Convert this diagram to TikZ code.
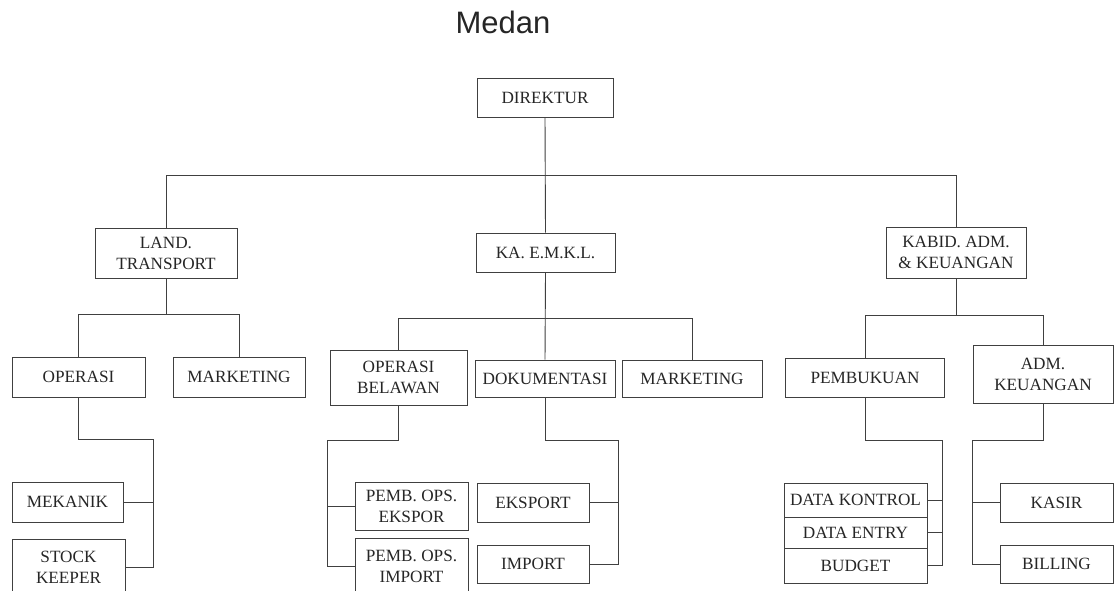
\documentclass[tikz,border=0pt]{standalone}
\usepackage{fontspec}
\setmainfont{Liberation Serif}
\newfontfamily\titlefont{Liberation Sans}
\begin{document}
\begin{tikzpicture}[x=1pt,y=-1pt,
  box/.style={draw=black!75, line width=0.9pt, inner sep=0pt, align=center,
    text=black!85, font=\fontsize{17.2}{21}\selectfont},
  conn/.style={draw=black!75, line width=0.9pt}]
\useasboundingbox (0,0) rectangle (1118,590);
\fill[white] (0,0) rectangle (1118,590);

\node[inner sep=0pt, text=black!85, font=\titlefont\fontsize{31}{36}\selectfont] (title) at (503,22.5) {Medan};

% level 0
\node[box, minimum width=136pt, minimum height=39pt] (dir) at (545,97.5) {DIREKTUR};
% level 1
\node[box, minimum width=142pt, minimum height=50pt] (land) at (166,253) {LAND.\\TRANSPORT};
\node[box, minimum width=139pt, minimum height=39pt] (emkl) at (545.5,252.5) {KA. E.M.K.L.};
\node[box, minimum width=140pt, minimum height=51pt] (kabid) at (956,252.5) {KABID. ADM.\\\& KEUANGAN};
% level 2
\node[box, minimum width=133pt, minimum height=40pt] (op1) at (78.5,377) {OPERASI};
\node[box, minimum width=132pt, minimum height=40pt] (mk1) at (239,377) {MARKETING};
\node[box, minimum width=137pt, minimum height=55pt] (opb) at (398.5,377.5) {OPERASI\\BELAWAN};
\node[box, minimum width=140pt, minimum height=37pt] (dok) at (545,378.5) {DOKUMENTASI};
\node[box, minimum width=140pt, minimum height=37pt] (mk2) at (692,378.5) {MARKETING};
\node[box, minimum width=159pt, minimum height=39pt] (pemb) at (865,377.5) {PEMBUKUAN};
\node[box, minimum width=140pt, minimum height=58pt] (admk) at (1043,374) {ADM.\\KEUANGAN};
% level 3
\node[box, minimum width=111pt, minimum height=40pt] (mek) at (67.5,502) {MEKANIK};
\node[box, minimum width=113pt, minimum height=57pt] (stock) at (68.5,567.5) {STOCK\\KEEPER};
\node[box, minimum width=113pt, minimum height=48pt] (pex) at (411.5,506) {PEMB. OPS.\\EKSPOR};
\node[box, minimum width=113pt, minimum height=56pt] (pim) at (411.5,566) {PEMB. OPS.\\IMPORT};
\node[box, minimum width=112pt, minimum height=39pt] (eks) at (533,502.5) {EKSPORT};
\node[box, minimum width=112pt, minimum height=38pt] (imp) at (533,564) {IMPORT};
\node[box, minimum width=143pt, minimum height=34pt] (dk) at (855.5,500) {DATA KONTROL};
\node[box, minimum width=143pt, minimum height=31pt] (de) at (855.5,532.5) {DATA ENTRY};
\node[box, minimum width=143pt, minimum height=35pt] (bud) at (855.5,565.5) {BUDGET};
\node[box, minimum width=113pt, minimum height=39pt] (kas) at (1056.5,502.5) {KASIR};
\node[box, minimum width=113pt, minimum height=38pt] (bil) at (1056.5,564) {BILLING};

% bus coordinates
\coordinate (bus0) at (545,175);
\coordinate (b1) at (166,314);
\coordinate (b2) at (545,318);
\coordinate (b3) at (956,315);
\coordinate (r1) at (153,439);
\coordinate (r2) at (327,440);
\coordinate (r3) at (618,440);
\coordinate (r4) at (942,440);
\coordinate (r5) at (972,440);

% top level
\draw[conn] (dir.south) -- (emkl.north);
\draw[conn] (land.north) -- (land.north |- bus0) -- (kabid.north |- bus0) -- (kabid.north);
% land transport
\draw[conn] (land.south) -- (b1);
\draw[conn] (op1.north) -- (op1.north |- b1) -- (mk1.north |- b1) -- (mk1.north);
% emkl
\draw[conn] (emkl.south) -- (dok.north);
\draw[conn] (opb.north) -- (opb.north |- b2) -- (mk2.north |- b2) -- (mk2.north);
% kabid
\draw[conn] (kabid.south) -- (b3);
\draw[conn] (pemb.north) -- (pemb.north |- b3) -- (admk.north |- b3) -- (admk.north);
% operasi
\draw[conn] (op1.south) -- (op1.south |- r1) -- (r1) |- (stock.east);
\draw[conn] (mek.east) -- (mek.east -| r1);
% operasi belawan
\draw[conn] (opb.south) -- (opb.south |- r2) -- (r2) |- (pim.west);
\draw[conn] (pex.west) -- (pex.west -| r2);
% dokumentasi
\draw[conn] (dok.south) -- (dok.south |- r3) -- (r3) |- (imp.east);
\draw[conn] (eks.east) -- (eks.east -| r3);
% pembukuan
\draw[conn] (pemb.south) -- (pemb.south |- r4) -- (r4) |- (bud.east);
\draw[conn] (dk.east) -- (dk.east -| r4);
\draw[conn] (de.east) -- (de.east -| r4);
% adm keuangan
\draw[conn] (admk.south) -- (admk.south |- r5) -- (r5) |- (bil.west);
\draw[conn] (kas.west) -- (kas.west -| r5);
\end{tikzpicture}
\end{document}
